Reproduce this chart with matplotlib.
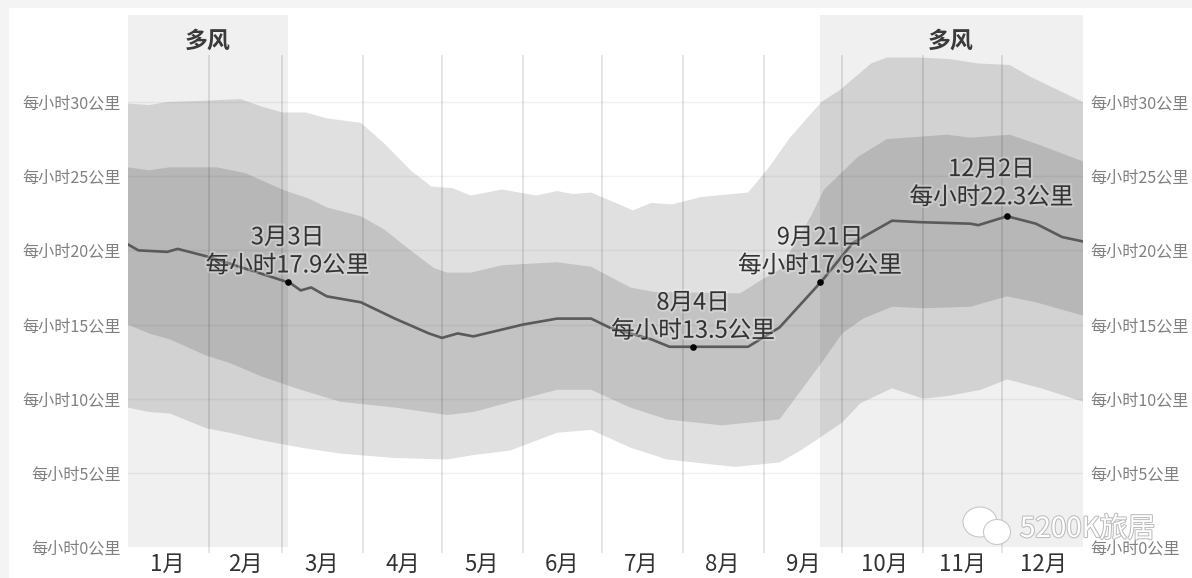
import matplotlib
matplotlib.use("Agg")
from matplotlib import pyplot as plt
from matplotlib import patheffects as pe
from matplotlib.patches import Ellipse, Rectangle

plt.rcParams['font.family'] = ['Noto Sans CJK SC', 'DejaVu Sans']

# day of year (0-365) -> km/h
p90_days = [0, 8, 15, 30, 43, 51, 59, 68, 76, 89, 98, 108, 116, 124, 131, 143, 156, 164, 170, 177, 185, 193, 200, 208, 219, 237, 245, 253, 265, 272, 284, 290, 303, 314, 325, 337, 345, 365]
p90_vals = [29.9, 29.8, 30.0, 30.1, 30.2, 29.7, 29.3, 29.3, 28.9, 28.6, 27.2, 25.4, 24.3, 24.2, 23.7, 24.1, 23.7, 24.0, 23.8, 23.9, 23.3, 22.7, 23.2, 23.1, 23.6, 23.9, 25.6, 27.6, 30.0, 30.8, 32.6, 33.0, 33.0, 32.9, 32.6, 32.5, 31.7, 30.0]

p75_days = [0, 8, 16, 34, 45, 59, 69, 76, 89, 98, 108, 117, 122, 131, 143, 164, 177, 192, 201, 234, 242, 249, 261, 266, 279, 290, 313, 322, 337, 347, 365]
p75_vals = [25.6, 25.4, 25.6, 25.6, 25.2, 24.1, 23.5, 22.9, 22.3, 21.4, 20.0, 18.8, 18.5, 18.5, 19.0, 19.2, 18.9, 17.5, 17.2, 17.1, 18.0, 18.7, 22.3, 24.1, 26.3, 27.5, 27.8, 27.6, 27.8, 27.2, 26.0]

med_days = [0, 4, 15, 19, 30, 55, 62, 66, 70, 76, 89, 102, 115, 120, 126, 132, 151, 164, 177, 184, 200, 207, 237, 249, 265, 277, 292, 303, 322, 325, 336, 347, 357, 365]
med_vals = [20.4, 20.0, 19.9, 20.1, 19.6, 18.2, 17.8, 17.3, 17.5, 16.9, 16.5, 15.4, 14.4, 14.1, 14.4, 14.2, 15.0, 15.4, 15.4, 14.8, 14.0, 13.5, 13.5, 14.8, 17.9, 20.5, 22.0, 21.9, 21.8, 21.7, 22.3, 21.8, 20.9, 20.6]

p25_days = [0, 8, 16, 30, 39, 51, 66, 81, 102, 122, 132, 151, 164, 177, 192, 206, 227, 249, 265, 273, 281, 292, 304, 322, 336, 347, 365]
p25_vals = [15.0, 14.4, 14.0, 12.9, 12.4, 11.5, 10.6, 9.8, 9.4, 8.9, 9.1, 10.0, 10.6, 10.6, 9.4, 8.6, 8.2, 8.6, 12.4, 14.4, 15.4, 16.2, 16.1, 16.2, 16.9, 16.5, 15.6]

p10_days = [0, 8, 16, 30, 39, 51, 66, 81, 102, 122, 132, 146, 164, 177, 192, 206, 232, 249, 257, 263, 273, 280, 292, 304, 314, 326, 336, 349, 365]
p10_vals = [9.4, 9.1, 9.0, 8.0, 7.7, 7.2, 6.7, 6.3, 6.0, 5.9, 6.2, 6.5, 7.7, 7.9, 6.7, 5.9, 5.4, 5.7, 6.5, 7.2, 8.4, 9.7, 10.7, 10.0, 10.2, 10.6, 11.3, 10.7, 9.8]

month_edges = [31, 59, 90, 120, 151, 181, 212, 243, 273, 304, 334]
month_centers = [15, 45, 74, 105, 135, 166, 196, 227, 258, 289, 319, 350]
month_labels = ['1月', '2月', '3月', '4月', '5月', '6月', '7月', '8月', '9月', '10月', '11月', '12月']
speed_ticks = [0, 5, 10, 15, 20, 25, 30]
speed_labels = ['每小时%d公里' % s for s in speed_ticks]

windy_spans = [(0, 61), (264.5, 365)]
marker_days = [61, 216, 264.5, 336]
marker_vals = [17.9, 13.5, 17.9, 22.3]
note_dates = ['3月3日', '8月4日', '9月21日', '12月2日']
note_speeds = ['每小时17.9公里', '每小时13.5公里', '每小时17.9公里', '每小时22.3公里']
note_days = [61, 216, 264.5, 330]
note_tops = [20.85, 16.45, 20.85, 25.45]

fig = plt.figure(figsize=(11.92, 5.78), dpi=100, facecolor='#f4f4f4')
fig.patches.append(Rectangle((9/1192, 0), 1, 1-8/578, transform=fig.transFigure, color='white', zorder=-5))
ax = fig.add_axes([128/1192, 1-547/578, 955/1192, 532/578])
ax.patch.set_alpha(0)
ax.set_xlim(0, 365)
ax.set_ylim(0, 35.87)

for a, b in windy_spans:
    ax.axvspan(a, b, color='#f0f0f0', lw=0, zorder=0)

# each band is one polygon: upper edge forwards, lower edge back
ax.fill(p90_days + p10_days[::-1], p90_vals + p10_vals[::-1], color='black', alpha=0.12, lw=0, zorder=1)
ax.fill(p75_days + p25_days[::-1], p75_vals + p25_vals[::-1], color='black', alpha=0.125, lw=0, zorder=2)

for s in speed_ticks[1:]:
    ax.axhline(s, color='black', alpha=0.05, lw=1, zorder=3)
ax.vlines(month_edges, -0.4, 33.2, color='black', alpha=0.12, lw=1.2, zorder=3, clip_on=False)

ax.plot(med_days, med_vals, color='#5a5a5a', lw=1.9, zorder=4)
ax.scatter(marker_days, marker_vals, color='black', s=14, zorder=5)

halo = [pe.withStroke(linewidth=3, foreground='white', alpha=0.25)]
for d, top, t1, t2 in zip(note_days, note_tops, note_dates, note_speeds):
    ax.text(d, top, t1, ha='center', va='center', fontsize=17, color='#333333', zorder=6, path_effects=halo)
    ax.text(d, top-1.9, t2, ha='center', va='center', fontsize=17, color='#333333', zorder=6, path_effects=halo)

ax.text(30.5, 34.1, '多风', ha='center', va='center', fontsize=16.5, fontweight='bold', color='#3a3a3a')
ax.text(314.5, 34.1, '多风', ha='center', va='center', fontsize=16.5, fontweight='bold', color='#3a3a3a')

ax.set_xticks(month_centers)
ax.set_xticklabels(month_labels, fontsize=16, color='#333333')
ax.set_yticks(speed_ticks)
ax.set_yticklabels(speed_labels, fontsize=11.6, color='#808080')
ax.tick_params(axis='both', length=0, labelleft=True, labelright=True)
ax.tick_params(axis='y', pad=5)
ax.tick_params(axis='x', pad=4)
for sp in ax.spines.values():
    sp.set_visible(False)

# watermark
for cx, cy, w, h in [(980, 522, 34, 30), (997, 532, 27, 25)]:
    fig.patches.append(Ellipse((cx/1192, 1-cy/578), w/1192, h/578, transform=fig.transFigure,
                               facecolor='white', edgecolor='#c8c8c8', lw=0.8, zorder=8))
fig.text(1020/1192, 1-529/578, '5200K旅居', fontsize=20, color='white', va='center', zorder=9,
         path_effects=[pe.withStroke(linewidth=1.5, foreground='#bdbdbd')])

fig.savefig('out.png', dpi=100, facecolor=fig.get_facecolor())
